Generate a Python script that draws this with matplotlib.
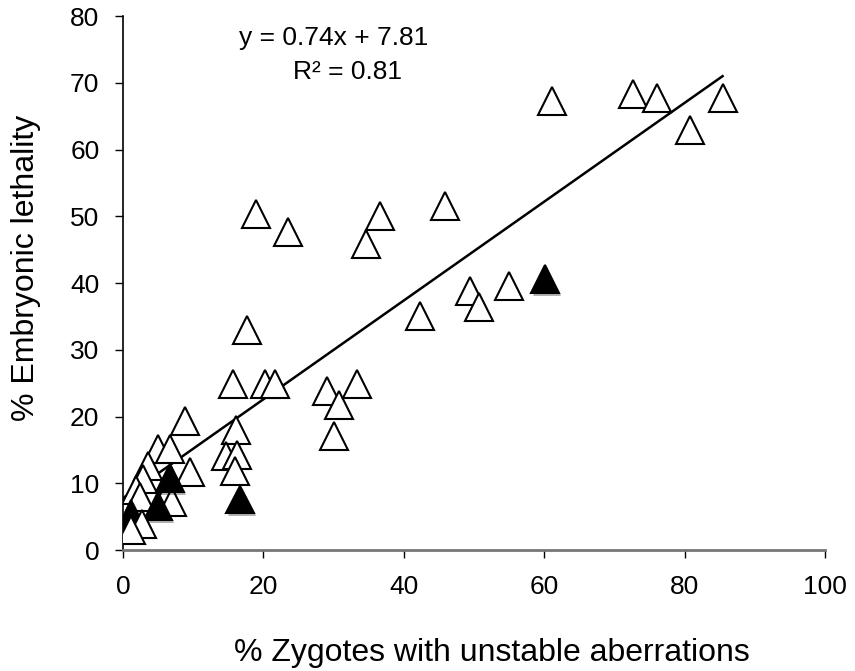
import numpy as np
import matplotlib
matplotlib.use("Agg")
import matplotlib.pyplot as plt
import matplotlib.patheffects as pe

plt.rcParams['font.family'] = ['Liberation Sans', 'DejaVu Sans']

# % zygotes with unstable aberrations, % embryonic lethality, filled marker?
zyg = [61.1, 72.7, 76.1, 85.4, 80.7, 45.9, 19.0, 23.5, 36.6, 34.6,
       42.3, 49.4, 50.7, 55.0, 17.6, 15.7, 20.2, 21.6, 29.1, 30.7,
       33.3, 30.1, 8.8, 16.1, 14.6, 16.2, 15.9, 9.5, 5.0, 6.7,
       3.6, 2.9, 1.9, 6.2, 7.0, 2.4,
       60.1, 16.7, 6.7, 5.0, 1.2,
       2.7, 1.2]
leth = [67.3, 68.3, 67.7, 67.7, 62.9, 51.5, 50.4, 47.7, 50.0, 45.8,
        35.1, 38.8, 36.4, 39.6, 33.0, 24.9, 24.9, 24.9, 23.9, 21.7,
        24.9, 17.1, 19.4, 18.0, 14.1, 14.2, 11.9, 11.7, 15.1, 15.1,
        12.6, 10.6, 9.0, 8.3, 7.2, 8.0,
        40.6, 7.6, 10.8, 6.6, 5.4,
        3.9, 3.0]
filled = [0] * 36 + [1] * 5 + [0] * 2

slope = 0.74
intercept = 7.81
r2 = 0.81

fig = plt.figure(figsize=(8.55, 6.71), dpi=100)
ax = fig.add_axes([0.1439, 0.180, 0.8211, 0.796])

xs = np.array([0, max(zyg)])
ax.plot(xs, slope * xs + intercept, color='black', lw=1.8, zorder=2)

# one point at a time so the drawing order matches the original overlaps
shadow = [pe.SimplePatchShadow(offset=(1.5, -2), alpha=0.3), pe.Normal()]
for x, y, f in zip(zyg, leth, filled):
    m, = ax.plot(x, y, marker='^', ms=20, mfc='black' if f else 'white',
                 mec='black', mew=1.5, ls='none', zorder=3)
    if f:
        m.set_path_effects(shadow)

ax.set_xlim(0, 100)
ax.set_ylim(0, 80)
ax.set_xticks(np.arange(0, 101, 20))
ax.set_yticks(np.arange(0, 81, 10))
ax.tick_params(axis='both', labelsize=19, length=6, width=1, direction='out')
ax.tick_params(axis='x', pad=12)
ax.tick_params(axis='y', pad=11)
ax.spines['top'].set_visible(False)
ax.spines['right'].set_visible(False)
ax.spines['left'].set_linewidth(1.2)
ax.spines['bottom'].set_color('#777777')
ax.spines['bottom'].set_linewidth(2)

ax.set_xlabel('% Zygotes with unstable aberrations', fontsize=23, labelpad=28)
ax.set_ylabel('% Embryonic lethality', fontsize=23, labelpad=21)
ax.xaxis.label.set_x(0.525)
ax.yaxis.label.set_y(0.528)

ax.text(0.30, 0.959, f'y = {slope:.2f}x + {intercept:.2f}', transform=ax.transAxes,
        ha='center', va='center', fontsize=19)
ax.text(0.32, 0.895, f'R² = {r2:.2f}', transform=ax.transAxes,
        ha='center', va='center', fontsize=19)

fig.savefig('out.png', dpi=100)
